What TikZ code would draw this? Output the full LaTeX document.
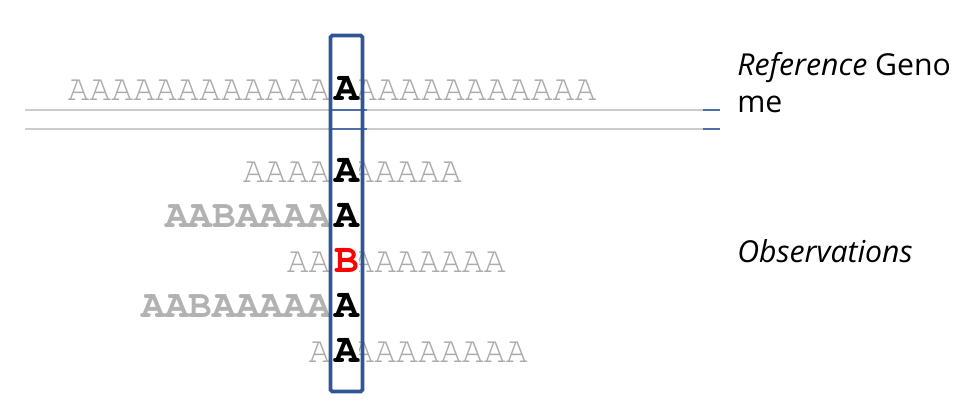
\documentclass[tikz,border=0pt]{standalone}
\usepackage{fontspec}
\newfontfamily\cursorfont{TeX Gyre Cursor}
\newfontfamily\slidefont{Open Sans}
\definecolor{boxblue}{RGB}{47,85,151}
\begin{document}
\begin{tikzpicture}
[x=0.02cm,y=-0.02cm,
seq/.style={font=\cursorfont\fontsize{20.8}{22}\selectfont,text=black!33,inner sep=0pt},
bseq/.style={font=\cursorfont\bfseries\fontsize{22.4}{24}\selectfont,text=black!30,inner sep=0pt},
pick/.style={font=\cursorfont\bfseries\fontsize{23.5}{24}\selectfont,text=black,fill=white,inner sep=0pt,anchor=base},
rule/.style={black!20,line width=0.8pt},
tick/.style={boxblue!85,line width=0.8pt},
note/.style={font=\slidefont\fontsize{17.2}{20}\selectfont,anchor=base west,inner sep=0pt},]

\useasboundingbox (0,0) rectangle (971,419);

%Rules under the reference
\coordinate (r1a) at (25,110);
\coordinate (r1b) at (703,110);
\coordinate (r1c) at (720,110);
\coordinate (r2a) at (25,129);
\coordinate (r2b) at (703,129);
\coordinate (r2c) at (720,129);
\coordinate (c1a) at (331,110);
\coordinate (c1b) at (367,110);
\coordinate (c2a) at (331,129);
\coordinate (c2b) at (367,129);
\draw[rule] (r1a)--(r1b);
\draw[rule] (r2a)--(r2b);
\draw[tick] (r1b)--(r1c);
\draw[tick] (r2b)--(r2c);
\draw[tick] (c1a)--(c1b);
\draw[tick] (c2a)--(c2b);

%Reference genome
\node (refL) at (331,100)[seq,anchor=base east] {AAAAAAAAAAAA};
\node (refR) at (355,100)[seq,anchor=base west] {AAAAAAAAAAA};
\node (refA) at (347,100)[pick] {A};

%Observations
\node (o1L) at (331,182)[seq,anchor=base east] {AAAA};
\node (o1R) at (352,182)[seq,anchor=base west] {AAAAA};
\node (o1A) at (347,182)[pick] {A};

\node (o2L) at (331,227)[bseq,anchor=base east] {AABAAAA};
\node (o2A) at (347,227)[pick] {A};

\node (o3L) at (331,272)[seq,anchor=base east] {AA};
\node (o3R) at (352,272)[seq,anchor=base west] {AAAAAAA};
\node (o3B) at (347,272)[pick,text=red] {B};

\node (o4L) at (331,317)[bseq,anchor=base east] {AABAAAAA};
\node (o4A) at (347,317)[pick] {A};

\node (o5L) at (331,362)[seq,anchor=base east] {A};
\node (o5R) at (352,362)[seq,anchor=base west] {AAAAAAAA};
\node (o5A) at (347,362)[pick] {A};

%Column box
\draw[boxblue,line width=2.1pt,rounded corners=1pt] (330.5,35.5) rectangle (362.5,391.5);

%Labels
\node (lab1) at (737,75)[note] {\textit{Reference} Geno};
\node (lab2) at (737,112)[note] {me};
\node (lab3) at (737,262)[note] {\textit{Observations}};

\end{tikzpicture}
\end{document}
